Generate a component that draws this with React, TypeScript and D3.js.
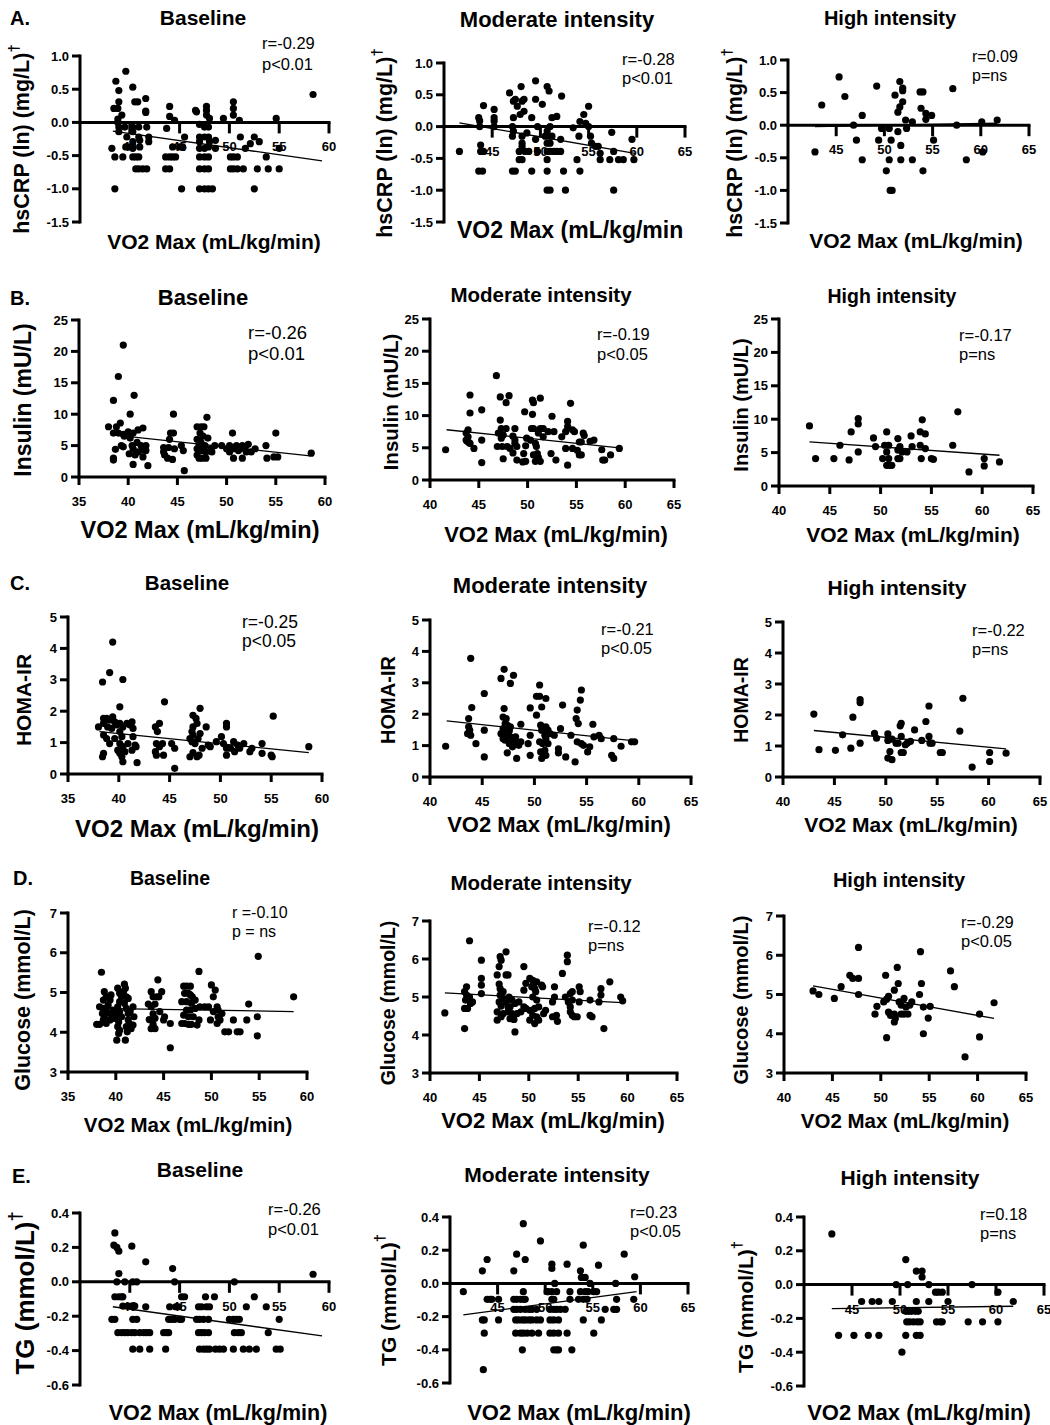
import React from "react";
import * as d3 from "d3";

type Pt = [number, number];

// ---------- DATA ----------
const groupTitles = ["Baseline", "Moderate intensity", "High intensity"];
const rowLetters = ["A.", "B.", "C.", "D.", "E."];
const yLabels = ["hsCRP (ln) (mg/L)", "Insulin (mU/L)", "HOMA-IR", "Glucose (mmol/L)", "TG (mmol/L)"];
const yLabelDagger = [true, false, false, false, true];
const xLabel = "VO2 Max (mL/kg/min)";
const rTexts = [
  ["r=-0.29", "r=-0.28", "r=0.09"],
  ["r=-0.26", "r=-0.19", "r=-0.17"],
  ["r=-0.25", "r=-0.21", "r=-0.22"],
  ["r =-0.10", "r=-0.12", "r=-0.29"],
  ["r=-0.26", "r=0.23", "r=0.18"],
];
const pTexts = [
  ["p<0.01", "p<0.01", "p=ns"],
  ["p<0.01", "p<0.05", "p=ns"],
  ["p<0.05", "p<0.05", "p=ns"],
  ["p = ns", "p=ns", "p<0.05"],
  ["p<0.01", "p<0.05", "p=ns"],
];

// Row A: hsCRP
const crpBase: Pt[] = [
  [38.6,0.62],[39.6,0.77],[38.9,0.48],[38.9,0.31],[38.4,0.21],[38.8,0.21],[39.2,0.11],[38.8,0.05],[38.8,0.0],[40.3,0.53],[40.5,0.31],[40.8,0.31],[41.6,0.36],[41.6,0.17],[41.6,0.15],
  [38.2,-0.39],[38.5,-0.52],[39.3,-0.52],[38.5,-1.0],[38.9,-0.14],[38.9,-0.07],[39.5,-0.07],[39.7,-0.22],[39.6,-0.37],[40.0,-0.37],[40.3,-0.07],[40.3,-0.14],[40.3,-0.29],[40.3,-0.39],[40.3,-0.52],[40.6,-0.52],[40.6,-0.7],[40.9,-0.7],[40.9,-0.07],[40.9,-0.22],[41.0,-0.37],[41.0,-0.27],[40.9,-0.52],[41.3,-0.7],[41.7,-0.7],[41.7,-0.07],[41.9,-0.22],[41.9,-0.29],
  [44.0,0.24],[44.0,0.09],[44.5,0.03],[43.7,-0.09],[44.3,-0.37],[43.6,-0.52],[44.0,-0.52],[44.3,-0.52],[44.6,-0.52],[43.6,-0.7],[44.0,-0.7],[45.5,-0.22],[45.3,-0.37],[45.0,-0.37],[45.2,-1.0],
  [46.6,0.18],[46.7,0.16],[47.7,0.24],[47.7,0.18],[47.7,0.11],[47.0,-0.03],[47.0,-0.22],[47.0,-0.29],[47.0,-0.39],[47.0,-0.52],[47.0,-0.7],[47.0,-1.0],[47.5,-0.07],[47.5,-0.22],[47.5,-0.39],[47.5,-0.52],[47.5,-0.7],[47.5,-1.0],[47.9,-0.07],[47.9,-0.22],[47.9,-0.37],[47.9,-0.52],[47.9,-0.7],[47.9,-1.0],[48.0,0.06],[48.0,-0.29],[48.6,-0.27],[48.6,-0.39],[48.3,-1.0],
  [49.4,0.06],[50.4,0.31],[50.4,0.21],[50.4,0.11],[50.1,-0.52],[50.4,-0.52],[50.8,-0.52],[50.1,-0.7],[50.4,-0.7],[50.8,-0.7],[51.0,0.03],[51.1,-0.22],[51.6,-0.39],[51.4,-0.7],[52.5,-0.22],[52.1,-0.32],[53.0,-0.29],[52.8,-0.7],[52.5,-1.0],[53.7,-0.52],[53.9,-0.7],[54.7,0.06],[55.0,-0.39],[55.0,-0.7],[58.4,0.42],
];
const crpMod: Pt[] = [
  [41.6,-0.39],[43.6,0.14],[43.7,0.09],[44.1,0.33],[43.7,0.0],[43.8,-0.29],[43.8,-0.39],[44.1,-0.39],[43.6,-0.7],[44.0,-0.7],[45.2,0.27],[45.2,0.14],[45.2,0.09],[45.2,0.0],
  [46.8,0.53],[48.0,0.63],[47.2,0.4],[47.4,0.43],[47.6,0.32],[48.1,0.4],[48.3,0.43],[47.2,0.14],[47.9,0.19],[48.3,0.24],[47.1,0.0],[47.1,-0.15],[47.2,-0.07],[48.1,-0.15],[48.1,-0.26],[48.1,-0.31],[47.8,-0.39],[48.4,-0.39],[48.8,-0.39],[47.8,-0.52],[48.1,-0.52],[47.1,-0.7],[47.4,-0.7],[48.6,-0.1],
  [49.5,0.72],[49.5,0.43],[50.2,0.35],[49.1,0.14],[49.5,-0.2],[49.7,-0.39],[49.1,-0.7],[49.7,0.0],[50.7,0.63],[50.9,0.56],[51.2,0.14],[51.0,0.0],[50.7,-0.07],[50.5,-0.15],[50.9,-0.15],[51.2,-0.15],[50.7,-0.26],[51.0,-0.26],[50.7,-0.39],[51.0,-0.39],[51.4,-0.39],[51.7,-0.39],[52.1,-0.39],[50.7,-0.52],[50.7,-0.7],[50.7,-1.0],[51.0,-1.0],
  [51.7,0.16],[52.2,0.48],[52.1,-0.2],[52.4,-0.7],[52.6,-1.0],[53.4,-0.02],[53.8,-0.52],[54.0,-0.15],[54.1,0.08],[54.5,0.19],[54.7,0.05],[54.1,-0.7],[55.0,0.32],[55.0,0.0],[55.2,-0.15],[55.3,-0.26],[55.7,-0.31],[56.0,-0.31],[56.2,-0.42],[56.2,-0.52],[57.2,-0.52],[57.4,-0.09],[57.6,-0.39],[57.6,-1.0],[58.1,-0.52],[58.6,-0.52],[59.5,-0.2],[59.7,-0.52],
];
const crpHigh: Pt[] = [
  [42.8,-0.41],[43.5,0.31],[45.3,0.74],[45.9,0.44],[46.8,0.0],[47.1,-0.23],[47.7,0.15],[47.7,-0.53],[49.2,0.6],[49.4,-0.23],[49.7,-0.05],[50.2,-0.7],[50.5,-0.53],[50.5,-0.05],[50.7,-0.23],[51.1,0.46],[50.6,-1.0],[50.8,-1.0],[51.4,0.2],[51.4,-0.1],[51.6,0.28],[51.6,0.67],[51.7,-0.31],[51.7,-0.53],[51.9,0.57],[51.9,0.53],[51.9,0.36],[52.2,0.08],[52.3,-0.05],[52.9,0.05],[52.9,-0.53],[53.7,0.51],[54.0,0.51],[53.8,0.26],[54.3,0.18],[54.3,0.09],[54.9,0.15],[55.1,-0.23],[54.0,-0.7],[57.1,0.56],[57.5,0.0],[58.5,-0.53],[60.1,0.05],[60.2,-0.41],[61.7,0.08],
];

// Row B: Insulin
const insBase: Pt[] = [
  [39.5,21],[39.0,16],[38.5,12.2],[40.6,13],[40.2,10],[44.6,10],[48.0,9.5],
  [38.0,8],[38.8,8],[39.2,8.6],[38.5,7],[39.0,7],[39.5,6.8],[40.0,7.2],[40.5,7],[41.0,7.5],[41.5,7.8],[40.2,6.2],[39.3,5],[40.4,5],[40.9,5.5],[41.3,5],[41.8,5],[38.7,4.4],[39.5,4.8],[40.5,4.5],[41.0,4],[41.5,4.3],[40.1,3.7],[40.7,3.5],[38.5,3],[38.5,2.7],[41.5,3.2],[40.5,2],[42.0,1.8],[39.6,6.5],[41.8,4.2],
  [43.6,4.7],[44.1,4.7],[44.3,7],[44.6,7],[43.7,3.5],[44.0,3],[44.5,2.8],[44.7,4.5],[45.4,5],[45.6,4.2],[45.7,1],[43.6,4.0],[44.2,6],
  [47.0,8],[47.4,8],[47.7,8],[47.3,7],[47.6,6.5],[47.0,6],[47.4,5.5],[47.8,5],[47.2,5],[48.1,6.2],[47.0,4.5],[47.5,4.2],[47.9,4],[47.0,3.5],[47.5,3],[47.9,3],[48.4,4.5],[48.8,5],[48.5,4],[47.2,3.0],[49.5,5],
  [50.0,4.5],[50.3,5],[50.6,7],[50.3,4],[50.7,3],[51.0,5],[51.2,4.2],[51.4,4.5],[51.6,3],[51.6,5],[52.2,5.2],[52.5,4],[52.9,4.5],[52.0,4],[50.8,4.5],[51.9,4.8],
  [54.0,5],[54.1,3],[55.0,7],[55.2,3.2],[54.8,3.2],[58.6,3.8],
];
const insMod: Pt[] = [
  [41.6,4.7],[44.1,13.2],[44.1,10.4],[43.9,7.8],[43.7,7.3],[43.9,6.7],[43.7,6.2],[44.1,5.7],[44.5,4.9],[43.8,6.0],[44.0,5.8],[45.3,10.9],[45.3,6.2],[45.3,2.7],
  [46.8,16.2],[47.2,12.9],[48.1,13.1],[47.8,12.0],[47.2,9.3],[47.3,8.0],[47.8,8.0],[47.0,7.3],[47.5,7.0],[47.3,6.5],[46.9,5.2],[47.4,5.2],[47.9,5.2],[47.5,3.3],
  [48.2,4.9],[48.7,5.7],[48.5,4.2],[48.9,5.2],[48.7,8.0],[48.5,6.8],[48.7,6.2],[48.9,3.1],[49.6,4.1],[49.5,2.8],[49.8,5.3],[49.8,2.9],[49.9,6.5],[49.7,10.6],
  [50.4,8.0],[50.6,8.0],[50.5,12.4],[50.5,10.2],[50.6,12.0],[51.3,12.7],[50.3,6.2],[50.8,5.7],[50.9,5.2],[51.0,4.1],[50.6,3.9],[50.8,2.9],[51.3,2.9],[51.1,3.5],[51.3,8.0],[51.6,8.0],[51.6,6.7],[51.1,7.3],[52.1,7.5],
  [52.5,9.9],[52.7,7.5],[52.4,4.1],[52.9,3.1],[53.5,6.7],[53.9,7.5],[54.1,9.1],[54.1,8.3],[53.9,4.9],[54.1,2.3],[54.4,11.9],[54.6,7.8],[54.8,7.5],[54.6,4.9],[55.1,4.6],[55.3,5.9],[55.5,5.9],[55.7,7.3],[55.8,6.9],[55.3,3.9],[55.5,3.9],[56.4,6.0],[56.8,6.2],[57.6,4.7],[57.7,3.1],[57.9,3.1],[58.5,3.9],[59.4,4.9],
];
const insHigh: Pt[] = [
  [43.0,9.0],[43.6,4.1],[45.4,4.1],[46.0,6.1],[46.9,3.9],[47.1,8.1],[47.8,10.1],[47.8,9.3],[47.8,5.1],[49.3,7.2],[49.5,5.9],[50.2,4.1],[50.6,8.1],[50.4,6.1],[50.8,6.1],[50.6,5.1],[50.8,4.1],[50.6,3.1],[50.9,3.1],[51.1,3.1],[51.7,7.1],[51.9,5.9],[52.1,5.1],[51.7,5.4],[51.7,4.1],[51.9,4.1],[52.6,5.1],[53.0,7.5],[53.1,5.9],[53.9,8.1],[54.1,9.9],[53.9,6.1],[54.0,4.1],[54.4,7.8],[54.4,5.6],[55.0,4.1],[55.2,4.0],[57.1,6.1],[57.6,11.1],[58.7,2.1],[60.2,4.1],[60.2,3.0],[61.7,3.6],
];

// Row C: HOMA-IR
const homaBase: Pt[] = [
  [39.4,4.2],[39.1,3.23],[38.4,2.93],[40.4,3.01],[40.1,2.14],[38.0,1.5],[38.5,1.77],[38.8,1.77],[39.1,1.72],[39.4,1.82],[38.5,1.61],[38.9,1.5],[39.3,1.45],[39.6,1.66],[39.8,1.56],[40.1,1.61],[40.4,1.5],[40.8,1.61],[41.1,1.56],[41.3,1.66],[41.4,1.45],
  [38.5,1.24],[38.8,1.13],[39.1,0.97],[39.6,1.13],[40.1,0.97],[40.4,0.87],[38.5,0.66],[38.4,0.55],[39.9,0.76],[40.1,0.66],[40.3,0.55],[40.6,0.71],[40.9,0.97],[41.3,0.76],[40.4,0.39],[41.8,0.36],[41.4,1.19],[41.6,0.92],[41.7,0.87],[40.1,1.35],[40.3,1.19],
  [43.6,1.5],[43.8,1.35],[44.0,1.61],[43.7,0.97],[44.0,0.87],[44.3,0.97],[43.6,0.71],[43.7,0.6],[44.4,0.6],[44.5,2.3],[45.2,0.97],[45.5,0.82],[45.5,0.18],
  [47.3,1.87],[47.7,1.61],[47.3,1.5],[47.2,1.35],[47.3,1.24],[47.0,1.13],[47.2,1.03],[47.5,0.97],[47.8,1.13],[48.0,1.29],[48.0,2.09],[47.6,1.77],[47.0,0.55],[47.3,0.68],[47.7,0.55],[47.9,0.6],[48.2,0.82],[48.6,1.5],[48.8,0.92],[49.0,0.87],
  [49.6,1.03],[50.1,1.19],[50.6,1.61],[50.6,1.5],[50.3,0.97],[50.6,0.82],[50.6,0.6],[51.0,0.82],[51.3,1.03],[51.4,0.71],[51.7,0.92],[51.9,0.82],[52.3,0.97],[53.1,0.82],[52.9,0.71],[54.1,0.97],[54.1,0.66],[55.0,0.6],[55.1,0.55],[55.2,1.84],[58.7,0.87],
];
const homaMod: Pt[] = [
  [41.5,0.98],[43.9,3.78],[44.0,2.21],[43.7,1.86],[43.7,1.6],[43.8,1.49],[43.6,1.38],[43.9,1.33],[44.4,1.06],[45.2,2.66],[45.2,1.49],[45.2,0.64],
  [46.8,3.14],[47.1,3.43],[47.7,2.98],[48.0,3.24],[47.1,2.18],[47.0,1.91],[47.3,1.86],[47.2,1.7],[47.4,1.65],[47.7,1.6],[47.0,1.54],[47.6,1.47],[47.2,1.38],[46.8,1.38],[47.7,1.28],[47.9,1.22],[47.0,1.22],[47.2,1.17],[48.1,1.17],[47.6,1.06],[48.3,1.06],[47.9,0.96],[48.5,1.01],[48.7,1.12],[48.2,1.28],[47.4,0.77],[48.3,0.59],[48.7,1.68],
  [49.4,1.06],[49.6,1.33],[49.6,2.2],[49.6,0.69],[50.2,2.57],[50.5,2.57],[50.5,2.93],[50.2,1.97],[50.7,2.23],[51.1,2.5],[50.6,1.65],[51.1,1.6],[50.7,1.49],[51.3,1.49],[51.0,1.33],[51.5,1.38],[51.1,1.22],[50.5,1.12],[50.8,1.06],[51.3,1.06],[51.0,0.85],[50.6,0.8],[51.1,0.69],[50.7,0.59],
  [51.9,1.33],[52.5,1.54],[52.3,0.9],[52.3,0.77],[52.7,2.29],[53.0,0.64],[53.5,1.33],[54.0,1.86],[54.1,1.12],[54.4,2.45],[54.5,2.77],[54.1,2.13],[54.2,1.7],[53.9,0.48],[54.5,1.06],[54.7,1.01],[55.1,0.8],[55.3,0.96],[55.6,1.68],[55.7,1.28],[56.2,1.33],[56.4,1.22],[57.6,1.22],[57.4,0.69],[57.6,0.59],[58.3,0.98],[59.3,1.12],[59.6,1.12],
];
const homaHigh: Pt[] = [
  [43.0,2.03],[43.5,0.88],[45.1,0.86],[45.8,1.36],[46.6,0.93],[46.8,1.93],[47.5,2.5],[47.5,2.4],[47.5,1.09],[48.9,1.41],[49.1,1.25],[50.2,1.39],[50.2,1.18],[50.4,0.82],[50.2,0.61],[50.6,0.56],[50.6,1.22],[51.0,1.09],[51.2,1.09],[51.5,1.31],[51.5,1.73],[51.4,1.65],[51.5,0.79],[51.7,0.79],[51.9,1.04],[52.1,1.1],[52.4,1.15],[52.8,1.52],[53.5,1.18],[53.9,1.79],[54.2,2.29],[54.2,1.31],[54.3,1.09],[54.5,1.09],[55.3,0.79],[55.5,0.79],[57.2,1.48],[57.5,2.54],[58.4,0.32],[60.1,0.79],[60.1,0.5],[61.7,0.77],
];

// Row D: Glucose
const gluBase: Pt[] = [
  [38.5,5.51],[38.0,4.2],[38.3,4.2],[38.8,5.02],[39.0,4.89],[38.7,4.81],[38.3,4.64],[38.7,4.6],[39.0,4.52],[39.2,4.68],[39.4,4.81],[39.5,4.94],[38.6,4.47],[38.8,4.39],[39.4,4.47],[39.7,4.56],[38.7,4.31],[39.0,4.22],[39.4,4.31],[39.7,4.39],[39.9,4.35],
  [40.2,5.11],[40.4,4.98],[40.6,4.89],[40.4,4.77],[40.2,4.64],[40.4,4.52],[40.6,4.39],[40.9,5.21],[41.0,5.11],[40.8,5.02],[40.1,4.47],[40.3,4.26],[40.2,4.14],[40.4,4.05],[40.3,3.97],[40.1,3.8],[41.0,3.8],
  [41.1,4.89],[40.9,4.73],[41.3,4.85],[41.1,4.6],[41.3,4.47],[41.5,4.52],[41.3,4.31],[41.1,4.14],[41.5,4.2],[41.2,4.01],[41.6,4.09],[41.8,4.18],[41.9,4.39],[41.8,4.64],
  [44.4,5.32],[43.7,5.02],[43.9,4.89],[44.3,4.89],[44.5,4.89],[44.8,5.02],[43.4,4.71],[43.7,4.64],[44.1,4.71],[43.9,4.46],[44.1,4.35],[43.5,4.32],[43.9,4.2],[43.7,4.09],[44.1,4.09],[44.6,4.52],[45.1,4.39],[45.0,4.31],[45.7,4.22],[45.7,3.61],
  [47.1,5.16],[47.4,5.16],[47.8,5.16],[47.2,4.98],[47.6,4.98],[47.8,4.94],[48.0,4.89],[46.9,4.77],[47.4,4.77],[47.9,4.73],[48.3,4.81],[47.4,4.56],[47.8,4.56],[48.3,4.6],[47.1,4.43],[47.6,4.39],[48.1,4.39],[46.9,4.22],[47.2,4.22],[47.6,4.2],[47.9,4.2],[48.5,4.18],[48.7,5.53],[48.7,4.31],[48.8,4.64],
  [49.3,4.64],[49.7,4.64],[50.0,5.19],[50.4,5.06],[50.2,4.89],[50.6,4.64],[50.7,4.56],[50.2,4.52],[51.1,4.47],[49.9,4.31],[50.7,4.39],[50.6,4.22],[50.9,4.31],[51.4,4.01],[51.8,4.01],[52.3,4.31],[52.7,4.01],[53.0,4.01],
  [53.9,4.71],[53.7,4.31],[54.9,5.91],[54.8,4.39],[54.8,3.91],[58.6,4.89],
];
const gluMod: Pt[] = [
  [41.5,4.58],[44.0,6.48],[43.7,5.27],[43.5,5.14],[43.7,5.05],[44.0,5.0],[43.6,4.92],[44.1,4.83],[44.3,4.87],[43.5,4.7],[43.8,4.7],[43.5,4.17],[45.2,5.97],[45.2,5.49],[45.2,5.31],[45.2,5.09],
  [46.8,5.58],[47.0,5.34],[47.1,6.06],[47.2,5.97],[47.0,5.8],[47.1,5.22],[47.4,5.14],[47.1,5.05],[47.4,4.96],[47.0,4.87],[47.7,4.87],[47.2,4.76],[47.9,4.74],[46.8,4.61],[47.4,4.56],[47.9,4.61],[47.2,4.48],[46.8,4.39],[47.7,6.19],[47.7,5.58],[47.9,5.58],
  [48.0,5.0],[48.3,4.92],[48.1,4.74],[48.6,4.83],[48.3,4.56],[48.8,4.56],[48.1,4.43],[48.5,4.41],[48.6,4.08],[49.5,5.8],[49.0,4.87],[49.5,4.74],[49.2,4.61],[49.7,4.7],[49.5,5.18],[49.7,5.36],
  [50.1,5.49],[50.4,5.44],[50.5,5.36],[50.3,5.27],[50.6,5.22],[50.8,5.4],[50.7,5.14],[50.4,5.0],[50.8,4.92],[51.0,4.74],[50.6,4.7],[50.1,4.65],[50.4,4.52],[50.8,4.48],[51.0,4.39],[50.6,4.3],[50.1,4.39],[51.3,5.31],[51.4,5.27],[51.5,4.56],[51.7,4.65],
  [52.4,4.87],[52.6,5.0],[52.6,5.27],[52.4,4.48],[52.8,4.52],[52.9,4.36],[53.4,5.62],[53.7,5.0],[54.0,4.87],[54.2,4.74],[53.9,6.1],[53.9,5.93],[54.2,5.09],[54.4,5.14],[54.4,4.92],[54.2,4.61],[54.4,4.52],[54.6,4.48],[54.9,4.48],[55.1,5.27],[55.2,5.14],[55.1,4.87],
  [56.2,4.52],[56.4,4.48],[56.2,4.92],[57.1,4.87],[57.3,5.22],[57.3,5.05],[57.6,4.17],[58.2,5.4],[59.3,5.0],[59.5,4.9],
];
const gluHigh: Pt[] = [
  [43.0,5.09],[43.6,5.0],[45.2,4.9],[45.9,5.2],[46.8,5.49],[47.1,5.41],[47.7,5.41],[47.7,6.2],[47.7,5.0],[49.4,4.5],[49.6,4.7],[50.3,4.81],[50.5,5.49],[50.6,4.88],[50.8,4.95],[50.8,4.55],[51.0,4.47],[50.6,3.9],[51.4,4.3],[51.5,4.39],[51.4,4.5],[51.4,5.11],[51.7,5.69],[51.8,5.28],[51.9,4.81],[52.1,4.73],[52.4,4.9],[52.6,4.68],[52.1,4.5],[52.4,4.5],[52.8,4.5],[53.0,4.73],[53.2,4.81],[54.0,5.0],[54.1,6.09],[54.2,5.28],[54.4,4.68],[54.4,4.0],[55.1,4.7],[54.9,4.4],[57.2,5.6],[57.6,5.2],[58.7,3.41],[60.2,4.5],[60.2,3.92],[61.7,4.79],
];

// Row E: TG
const tgBase: Pt[] = [
  [38.5,0.284],[38.4,0.213],[38.7,0.2],[38.9,0.178],[38.9,0.048],[38.7,0.0],[39.5,0.0],[38.5,-0.087],[38.9,-0.087],[39.2,-0.087],[39.3,-0.087],[38.2,-0.218],[38.5,-0.218],[38.8,-0.296],[39.2,-0.296],[39.5,-0.296],[39.8,-0.296],[39.3,-0.141],[39.8,-0.141],[40.2,-0.141],
  [40.2,0.207],[40.3,0.0],[40.7,0.0],[40.5,-0.141],[40.3,-0.218],[40.7,-0.218],[40.5,-0.296],[40.2,-0.296],[40.3,-0.392],[41.0,-0.392],[41.0,-0.296],[41.4,-0.296],[41.7,-0.296],[41.6,0.116],[41.6,-0.145],[42.0,-0.392],[42.0,-0.296],
  [43.6,-0.392],[43.4,-0.296],[43.7,-0.296],[43.9,-0.296],[43.9,-0.218],[44.2,-0.218],[44.0,-0.145],[44.3,0.077],[44.5,0.0],[44.6,-0.145],[44.9,-0.145],[44.5,-0.218],[45.0,-0.218],[45.2,-0.087],[45.5,-0.087],[45.2,-0.218],
  [46.9,-0.145],[47.2,-0.145],[47.7,-0.145],[48.0,-0.145],[46.7,-0.218],[47.0,-0.218],[47.4,-0.218],[47.9,-0.218],[46.9,-0.296],[47.2,-0.296],[47.5,-0.296],[47.9,-0.296],[47.0,-0.392],[47.4,-0.392],[47.7,-0.392],[48.0,-0.392],[47.6,-0.087],[48.5,-0.087],[48.6,-0.392],[49.0,-0.392],[49.4,-0.392],
  [50.5,0.0],[50.0,-0.218],[50.4,-0.218],[50.7,-0.218],[51.0,-0.218],[50.5,-0.296],[50.9,-0.296],[51.2,-0.296],[50.4,-0.392],[51.4,-0.392],[52.0,-0.392],[52.7,-0.392],[51.7,-0.145],[52.5,-0.087],[53.7,-0.145],[53.9,-0.296],[55.0,-0.218],[54.7,-0.392],[55.1,-0.392],[58.4,0.044],
];
const tgMod: Pt[] = [
  [41.4,-0.05],[43.4,0.076],[43.9,0.144],[43.4,-0.22],[43.6,-0.22],[43.6,-0.3],[43.5,-0.52],[43.9,-0.096],[44.2,-0.096],[44.4,-0.096],[45.1,-0.096],[45.1,-0.22],
  [46.7,0.076],[47.0,0.176],[46.7,-0.096],[47.0,-0.096],[47.4,-0.096],[47.7,-0.096],[47.9,-0.096],[46.7,-0.156],[47.0,-0.156],[47.4,-0.156],[47.9,-0.156],[48.3,-0.156],[48.6,-0.156],[49.1,-0.156],[46.9,-0.22],[47.2,-0.22],[47.6,-0.22],[47.9,-0.22],[48.3,-0.22],[48.6,-0.22],[49.1,-0.22],[49.5,-0.22],[46.9,-0.3],[47.4,-0.3],[47.7,-0.3],[48.1,-0.3],[48.6,-0.3],[49.3,-0.3],[47.6,-0.4],[47.7,0.36],[47.9,0.144],[47.7,-0.05],[49.5,0.256],
  [50.2,-0.05],[50.3,-0.05],[50.7,-0.05],[51.2,-0.05],[50.7,-0.096],[50.9,-0.096],[50.5,-0.156],[50.9,-0.156],[51.2,-0.156],[51.6,-0.156],[52.1,-0.156],[50.7,0.116],[50.7,0.09],[51.0,0.0],[50.5,-0.22],[50.9,-0.22],[51.4,-0.22],[50.5,-0.3],[50.9,-0.3],[51.4,-0.3],[50.9,-0.4],[51.2,-0.4],[51.4,-0.4],
  [52.3,0.116],[52.3,-0.3],[52.6,-0.05],[52.6,-0.096],[52.8,-0.4],[53.7,0.076],[53.8,0.036],[54.2,0.036],[53.5,-0.096],[54.0,-0.096],[54.4,-0.096],[53.7,-0.05],[54.2,-0.05],[54.5,-0.05],[54.0,0.23],[54.0,-0.22],[54.7,0.0],[55.1,-0.05],[55.4,-0.05],[55.1,-0.3],[55.6,0.11],[56.3,-0.156],[55.9,-0.22],[57.2,-0.156],[57.5,-0.156],[57.5,-0.096],[57.4,0.0],[58.3,0.176],[59.3,-0.096],[59.4,0.04],
];
const tgHigh: Pt[] = [
  [42.9,0.3],[43.6,-0.3],[45.2,-0.3],[46.0,-0.1],[46.7,-0.3],[47.1,-0.1],[47.8,-0.1],[47.8,-0.3],[49.2,-0.1],[49.6,0.0],[50.2,-0.4],[50.6,-0.3],[50.6,0.148],[50.8,0.0],[50.6,-0.158],[50.9,-0.158],[51.2,-0.158],[51.6,-0.158],[51.9,-0.158],[50.7,-0.22],[51.0,-0.22],[51.4,-0.22],[51.8,-0.22],[52.1,-0.22],[51.7,-0.1],[51.7,-0.3],[52.1,-0.3],[51.7,0.08],[52.3,0.08],[52.3,0.045],[53.0,0.0],[53.0,-0.1],[53.7,-0.045],[54.0,-0.045],[54.4,-0.045],[53.8,-0.22],[54.2,-0.22],[54.4,-0.22],[55.0,-0.1],[57.5,0.0],[57.1,-0.22],[58.6,-0.22],[60.2,-0.045],[60.2,-0.22],[61.8,-0.1],
];

// regression line end points [x0, y0, x1, y1]
const fits: number[][][] = [
  [[38.3,-0.13,59.3,-0.58],[41.6,0.06,59.8,-0.42],[42.8,-0.02,61.7,0.03]],
  [[38.2,6.75,58.5,3.35],[41.7,7.8,59.4,5.0],[43.0,6.6,61.7,4.6]],
  [[38.1,1.35,58.7,0.68],[41.6,1.79,59.6,1.15],[43.0,1.5,61.7,0.91]],
  [[38.1,4.6,58.6,4.52],[41.5,5.11,59.4,4.85],[43.0,5.22,61.7,4.39]],
  [[38.3,-0.145,59.3,-0.315],[41.4,-0.19,59.6,-0.05],[42.9,-0.142,61.8,-0.128]],
];
const rowData: Pt[][][] = [
  [crpBase, crpMod, crpHigh],
  [insBase, insMod, insHigh],
  [homaBase, homaMod, homaHigh],
  [gluBase, gluMod, gluHigh],
  [tgBase, tgMod, tgHigh],
];
const yDomains: [number, number][] = [[-1.5, 1], [0, 25], [0, 5], [3, 7], [-0.6, 0.4]];
const yTickSteps = [0.5, 5, 1, 1, 0.2];
const yTickFormats = [".1f", "d", "d", "d", ".1f"];
const xDomainsBase: [number, number] = [35, 60];
const xDomainsOther: [number, number] = [40, 65];

// ---------- LAYOUT (pixels) ----------
type Geo = {
  xr: [number, number]; yr: [number, number];
  tx: number; ty: number; ts: number;
  rx: number; ry: number; py: number; rs: number;
  xlx: number; xly: number; xls: number; xlStart?: boolean;
  ylx: number; yly: number; yls: number;
};
const geo: Geo[][] = [
  [
    { xr: [80, 329], yr: [222, 56], tx: 203, ty: 25, ts: 21, rx: 262, ry: 49, py: 70, rs: 16.5, xlx: 214, xly: 249, xls: 21, ylx: 22, yly: 139, yls: 21.5 },
    { xr: [444, 685], yr: [222, 63], tx: 557, ty: 27, ts: 22, rx: 622, ry: 65, py: 84, rs: 16.5, xlx: 457, xly: 238, xls: 23, xlStart: true, ylx: 385, yly: 143, yls: 21.5 },
    { xr: [788, 1029], yr: [223, 60], tx: 890, ty: 25, ts: 20, rx: 972, ry: 62, py: 81, rs: 16, xlx: 916, xly: 248, xls: 21, ylx: 735, yly: 143, yls: 21.5 },
  ],
  [
    { xr: [79, 325], yr: [477, 320], tx: 203, ty: 305, ts: 22, rx: 248, ry: 339, py: 360, rs: 18.5, xlx: 200, xly: 538, xls: 23.5, ylx: 23, yly: 400, yls: 23 },
    { xr: [430, 674], yr: [480, 319], tx: 541, ty: 302, ts: 20.5, rx: 597, ry: 340, py: 360, rs: 16.5, xlx: 556, xly: 542, xls: 22, ylx: 390, yly: 402, yls: 20.5 },
    { xr: [779, 1033], yr: [486, 319], tx: 892, ty: 303, ts: 19.5, rx: 959, ry: 341, py: 360, rs: 16.5, xlx: 913, xly: 542, xls: 21, ylx: 741, yly: 405, yls: 20 },
  ],
  [
    { xr: [68, 322], yr: [774, 617], tx: 187, ty: 590, ts: 20.5, rx: 242, ry: 628, py: 647, rs: 17.5, xlx: 197, xly: 837, xls: 24, ylx: 23, yly: 700, yls: 21 },
    { xr: [430, 691], yr: [777, 620], tx: 550, ty: 593, ts: 22, rx: 601, ry: 635, py: 654, rs: 16.5, xlx: 559, xly: 832, xls: 22, ylx: 388, yly: 700, yls: 20 },
    { xr: [783, 1040], yr: [777, 622], tx: 897, ty: 595, ts: 21, rx: 972, ry: 636, py: 655, rs: 16.5, xlx: 911, xly: 832, xls: 21, ylx: 741, yly: 700, yls: 19.5 },
  ],
  [
    { xr: [68, 307], yr: [1072, 913], tx: 170, ty: 885, ts: 19.5, rx: 232, ry: 918, py: 937, rs: 16, xlx: 188, xly: 1132, xls: 20.5, ylx: 23, yly: 1000, yls: 21.5 },
    { xr: [430, 677], yr: [1073, 921], tx: 541, ty: 890, ts: 20.5, rx: 588, ry: 932, py: 951, rs: 16.5, xlx: 553, xly: 1128, xls: 22, ylx: 388, yly: 1003, yls: 19.5 },
    { xr: [784, 1026], yr: [1073, 916], tx: 899, ty: 887, ts: 20, rx: 961, ry: 928, py: 947, rs: 16.5, xlx: 905, xly: 1128, xls: 20.5, ylx: 741, yly: 1000, yls: 20 },
  ],
  [
    { xr: [80, 329], yr: [1385, 1213], tx: 200, ty: 1177, ts: 21, rx: 268, ry: 1215, py: 1235, rs: 16.5, xlx: 218, xly: 1420, xls: 21.5, ylx: 25, yly: 1293, yls: 26 },
    { xr: [450, 688], yr: [1383, 1217], tx: 557, ty: 1182, ts: 21, rx: 630, ry: 1218, py: 1237, rs: 16.5, xlx: 579, xly: 1420, xls: 22, ylx: 388, yly: 1300, yls: 21 },
    { xr: [804, 1044], yr: [1386, 1217], tx: 910, ty: 1185, ts: 21, rx: 980, ry: 1220, py: 1239, rs: 16.5, xlx: 919, xly: 1420, xls: 22, ylx: 745, yly: 1307, yls: 21 },
  ],
];
const letterPos = [[10, 25], [10, 305], [10, 590], [13, 885], [12, 1183]];

const FONT = "'Liberation Sans', Arial, Helvetica, sans-serif";
const locale = d3.formatLocale({ decimal: ".", thousands: ",", grouping: [3], currency: ["", ""], minus: "-" });

function Panel({ row, col }: { row: number; col: number }) {
  const g = geo[row][col];
  const data = rowData[row][col];
  const cross = row === 0 || row === 4;
  const xd = col === 0 ? xDomainsBase : xDomainsOther;
  const yd = yDomains[row];
  const x = d3.scaleLinear().domain(xd).range(g.xr);
  const y = d3.scaleLinear().domain(yd).range(g.yr);
  const step = yTickSteps[row];
  const yTicks = d3.range(yd[0], yd[1] + step / 2, step).map((v) => Math.round(v * 1000) / 1000);
  const xTicksAll = d3.range(xd[0], xd[1] + 0.1, 5);
  const xTicks = cross ? xTicksAll.slice(1) : xTicksAll;
  const fmt = locale.format(yTickFormats[row]);
  const axisY = cross ? y(0) : y(yd[0]);
  const tickLen = cross ? 11 : 8;
  const f = fits[row][col];
  const line = d3.line<Pt>().x((d) => x(d[0])).y((d) => y(d[1]));
  const sw = 3;
  return (
    <g>
      <text x={g.tx} y={g.ty} fontFamily={FONT} fontWeight="bold" fontSize={g.ts} textAnchor="middle">{groupTitles[col]}</text>
      <text x={g.rx} y={g.ry} fontFamily={FONT} fontSize={g.rs}>{rTexts[row][col]}</text>
      <text x={g.rx} y={g.py} fontFamily={FONT} fontSize={g.rs}>{pTexts[row][col]}</text>
      <text transform={`translate(${g.ylx},${g.yly}) rotate(-90)`} fontFamily={FONT} fontWeight="bold" fontSize={g.yls} textAnchor="middle" dominantBaseline="central">
        {yLabels[row]}
        {yLabelDagger[row] ? <tspan baselineShift="super" fontSize={g.yls * 0.7}>†</tspan> : null}
      </text>
      <text x={g.xlx} y={g.xly} fontFamily={FONT} fontWeight="bold" fontSize={g.xls} textAnchor={g.xlStart ? "start" : "middle"}>
        {g.xlStart ? xLabel.slice(0, -1) : xLabel}
      </text>
      <line x1={g.xr[0]} x2={g.xr[0]} y1={y(yd[0]) + sw / 2} y2={y(yd[1]) - sw / 2} stroke="#000" strokeWidth={sw} />
      {yTicks.map((t) => (
        <g key={"y" + t}>
          <line x1={g.xr[0] - 8} x2={g.xr[0]} y1={y(t)} y2={y(t)} stroke="#000" strokeWidth={sw} />
          <text x={g.xr[0] - 11} y={y(t)} fontFamily={FONT} fontWeight="bold" fontSize={13} textAnchor="end" dominantBaseline="central">{fmt(t)}</text>
        </g>
      ))}
      <line x1={g.xr[0] - sw / 2} x2={g.xr[1] + sw / 2} y1={axisY} y2={axisY} stroke="#000" strokeWidth={sw} />
      {xTicks.map((t) => (
        <g key={"x" + t}>
          <line x1={x(t)} x2={x(t)} y1={axisY} y2={axisY + tickLen} stroke="#000" strokeWidth={sw} />
          <text x={x(t)} y={axisY + 29} fontFamily={FONT} fontWeight="bold" fontSize={13} textAnchor="middle">{t}</text>
        </g>
      ))}
      {data.map((d, i) => (
        <circle key={i} cx={x(d[0])} cy={y(d[1])} r={3.6} fill="#000" />
      ))}
      <path d={line([[f[0], f[1]], [f[2], f[3]]]) || ""} stroke="#000" strokeWidth={1.3} fill="none" />
    </g>
  );
}

export default function App() {
  const rows = [0, 1, 2, 3, 4];
  const cols = [0, 1, 2];
  return (
    <svg width={1050} height={1425} style={{ position: "absolute", left: 0, top: 0, background: "#fff" }}>
      <rect x={0} y={0} width={1050} height={1425} fill="#fff" />
      {rows.map((r) => (
        <text key={"L" + r} x={letterPos[r][0]} y={letterPos[r][1]} fontFamily={FONT} fontWeight="bold" fontSize={20}>{rowLetters[r]}</text>
      ))}
      {rows.map((r) => cols.map((c) => <Panel key={r + "-" + c} row={r} col={c} />))}
    </svg>
  );
}
